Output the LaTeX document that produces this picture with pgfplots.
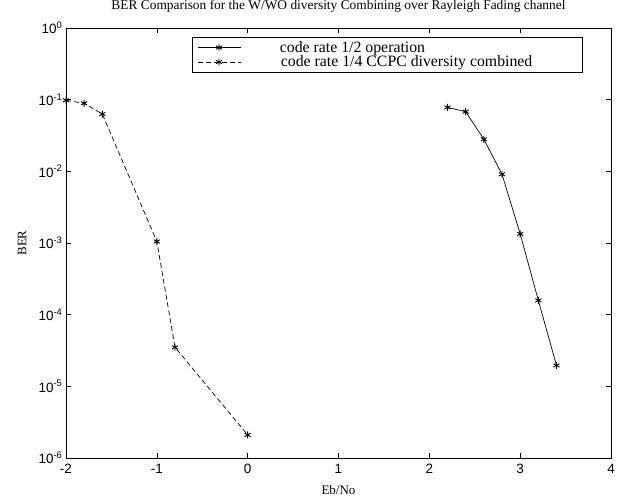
\documentclass[border=0pt]{standalone}
\usepackage{fontspec}
\setmainfont{Liberation Serif}
\newfontfamily\tickfont{Liberation Sans}
\usepackage{pgfplots}
\pgfplotsset{compat=1.18}
\begin{document}
\begin{tikzpicture}
\begin{semilogyaxis}[
  name=ax,
  scale only axis,
  width=545pt, height=430pt,
  xmin=-2, xmax=4, ymin=1e-6, ymax=1,
  xtick={-2,-1,0,1,2,3,4},
  xticklabels={-2,-1,0,1,2,3,4},
  ytick={1e-6,1e-5,1e-4,1e-3,1e-2,1e-1,1},
  yticklabels={10\textsuperscript{-6},10\textsuperscript{-5},10\textsuperscript{-4},10\textsuperscript{-3},10\textsuperscript{-2},10\textsuperscript{-1},10\textsuperscript{0}},
  yminorticks=false,
  tick align=inside,
  major tick length=5pt,
  tick style={black, line width=0.6pt},
  axis line style={line width=0.9pt},
  every tick label/.append style={font=\tickfont\fontsize{13.5}{15}\selectfont},
  xticklabel style={yshift=-3pt},
  title={BER Comparison for the W/WO diversity Combining over Rayleigh Fading channel},
  title style={font=\fontsize{13.4}{15}\selectfont, at={(axis description cs:0.5,1.037)}, anchor=center},
  xlabel={Eb/No},
  ylabel={BER},
  xlabel style={font=\fontsize{13}{15}\selectfont, at={(axis description cs:0.5,-0.0744)}, anchor=center},
  ylabel style={font=\fontsize{13}{15}\selectfont, at={(axis description cs:-0.0807,0.5)}, anchor=center},
  legend style={at={(0.231,0.979)}, anchor=north west, draw=black, line width=0.6pt,
    font=\fontsize{15.8}{17}\selectfont, inner xsep=5pt, inner ysep=3pt,
    nodes={inner ysep=1pt}},
  legend cell align=left,
  legend image code/.code={
    \draw[#1, no markers] plot coordinates {(0pt,0pt) (43pt,0pt)};
    \draw[#1, only marks] plot coordinates {(21.5pt,0pt)};
  },
]
\addplot[black, line width=0.7pt, mark=asterisk, mark size=3.5pt, mark options={solid, line width=0.9pt}]
  coordinates {(2.2,0.078) (2.4,0.068) (2.6,0.028) (2.8,0.0091) (3.0,0.00134) (3.2,0.000158) (3.4,0.0000196)};
\addlegendentry{\makebox[332pt][l]{\hspace*{37pt}code rate 1/2 operation}}
\addplot[black, line width=0.7pt, dashed, dash pattern=on 5pt off 3pt, mark=asterisk, mark size=3.5pt, mark options={solid, line width=0.9pt}]
  coordinates {(-2,0.098) (-1.8,0.089) (-1.6,0.063) (-1,0.00105) (-0.8,0.000035) (0,0.0000021)};
\addlegendentry{\makebox[332pt][l]{\hspace*{38pt}code rate 1/4 CCPC diversity combined}}
\end{semilogyaxis}
\pgfresetboundingbox
\path ([shift={(-66pt,-43pt)}]ax.south west) rectangle ([shift={(9pt,28pt)}]ax.north east);
\end{tikzpicture}
\end{document}
